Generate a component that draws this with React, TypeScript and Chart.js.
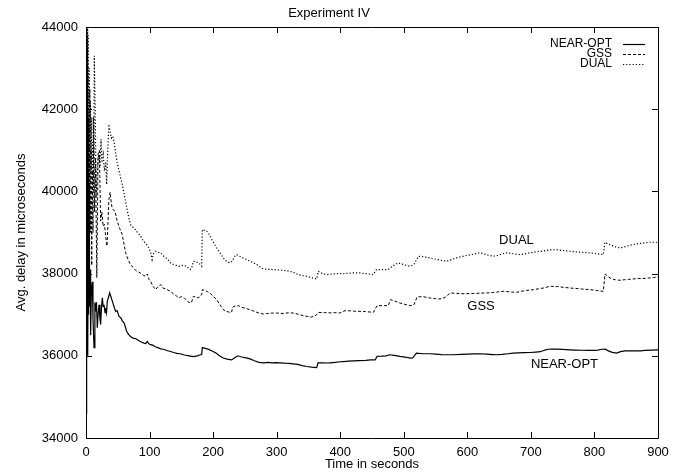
import React, { useEffect, useRef } from "react";
import { Chart, registerables } from "chart.js";

Chart.register(...registerables);

const chartTitle = "Experiment IV";
const xAxisTitle = "Time in seconds";
const yAxisTitle = "Avg. delay in microseconds";
const seriesNames = ["NEAR-OPT", "GSS", "DUAL"];
const xTickValues = [0, 100, 200, 300, 400, 500, 600, 700, 800, 900];
const yTickValues = [34000, 36000, 38000, 40000, 42000, 44000];

const nearOptTime = [
  0, 0.5, 1, 1.5, 2, 2.5, 3, 3.5, 4, 5, 5.5, 6.3, 7.3, 8.5, 10, 11, 12.6, 14, 15.2, 16.5, 17.8, 19, 20.5, 22, 23,
  24.5, 25.7, 27, 28.3, 30, 31, 32.3, 33.5, 35, 37.2, 39, 41.4, 43, 45, 46.7, 49, 52, 55, 57, 59.8, 62, 64, 67, 70,
  74, 78, 81, 85, 88, 91, 94, 96.5, 99, 101.7, 105, 109, 113, 117.5, 122, 127, 133, 138, 143, 148, 155, 162, 169,
  175, 179, 182, 183, 188, 194, 200, 205, 210, 216, 222, 229, 234, 239, 245, 252, 258, 265, 272, 279, 286, 293, 300,
  305, 312, 319, 326, 333, 340, 347, 355, 363, 365, 372, 380, 384, 392, 400, 405, 413, 421, 430, 440, 448, 455, 458,
  465, 472, 478, 485, 494, 502, 510, 514, 520, 530, 541, 550, 560, 570, 578, 590, 600, 610, 620, 630, 640, 646, 655,
  664, 672, 680, 690, 699, 708, 715, 722, 727, 733, 740, 750, 761, 770, 780, 790, 798, 805, 812, 817, 822, 828, 835,
  841, 848, 858, 866, 872, 880, 890, 900,
];
const nearOptDelay = [
  34600, 43800, 35800, 41800, 36400, 40500, 36000, 39500, 37000, 40200, 37200, 38100, 36500, 37600, 37800, 36900,
  36200, 37300, 37080, 37300, 36680, 37000, 37240, 36900, 36760, 37200, 37410, 37200, 37240, 37050, 37160, 37050,
  37330, 37400, 37530, 37450, 37330, 37250, 37150, 37080, 37100, 36960, 36920, 36850, 36800, 36700, 36590, 36520,
  36470, 36430, 36420, 36390, 36350, 36330, 36310, 36300, 36350, 36290, 36270, 36260, 36220, 36200, 36170, 36160,
  36130, 36105, 36080, 36060, 36050, 36020, 36000, 35980, 36000, 36020, 36030, 36200, 36180, 36150, 36105, 36060,
  36000, 35945, 35920, 35900, 35950, 36000, 35970, 35950, 35925, 35880, 35840, 35830, 35840, 35830, 35835, 35830,
  35820, 35815, 35805, 35790, 35760, 35740, 35725, 35715, 35830, 35830, 35825, 35830, 35840, 35855, 35860, 35870,
  35878, 35885, 35890, 35900, 35902, 35985, 35990, 36000, 36025, 36010, 35985, 35970, 35945, 35950, 36065, 36050,
  36050, 36040, 36030, 36025, 36025, 36035, 36040, 36045, 36050, 36040, 36030, 36025, 36035, 36050, 36065, 36070,
  36075, 36080, 36090, 36100, 36140, 36160, 36163, 36160, 36155, 36146, 36140, 36135, 36130, 36130, 36140, 36160,
  36163, 36120, 36085, 36066, 36100, 36120, 36122, 36120, 36122, 36130, 36140, 36146,
];

const gssTime = [
  0, 0.5, 1, 1.5, 2, 2.5, 3, 4, 5, 6, 7, 8, 9, 10, 11, 12, 13.5, 15, 17, 19, 21, 23, 25, 27, 29, 31, 33, 34.5, 36,
  38, 40, 41, 43, 45.6, 49, 53, 57, 60, 62.4, 66, 70, 74, 78, 80.7, 85, 90, 94, 96.5, 99, 101.7, 105, 109.6, 113,
  117.5, 121, 126, 133, 138, 142, 146, 150, 155, 160, 164, 166, 169, 173, 177, 180, 182, 183, 187, 191, 195, 200,
  205.6, 210, 216, 221, 226.6, 229, 231, 235, 239.7, 245, 252, 258, 265, 272, 279, 286, 293, 300, 310, 318, 326, 334,
  342, 348, 355, 360, 363, 365.5, 375, 385, 392, 399.6, 407.5, 415, 423, 431, 440, 447, 452, 458, 466, 475.6, 479,
  486, 494, 502, 510, 516, 521, 530, 541, 550, 557, 565, 573, 583, 593, 604, 615, 622, 630, 640, 648, 656.6, 664,
  671, 677.6, 685, 693, 699, 704, 712, 720, 727, 733, 742, 752, 761, 770, 780, 793, 803, 810, 814, 816.6, 822, 827,
  833, 840, 847, 854, 861, 870, 880, 887, 893, 900,
];
const gssDelay = [
  34900, 44000, 37500, 43500, 38500, 42800, 37800, 41800, 38400, 42500, 39000, 41000, 38200, 40500, 39000, 41800,
  39500, 40800, 37900, 40900, 41000, 39280, 39500, 39150, 39200, 38900, 38670, 39200, 39800, 39980, 39700, 39600,
  39550, 39520, 39280, 39100, 38950, 38700, 38505, 38350, 38220, 38150, 38080, 38056, 38020, 37960, 37935, 37990,
  37860, 37813, 37700, 37610, 37680, 37732, 37650, 37620, 37569, 37500, 37460, 37407, 37440, 37400, 37320, 37285,
  37300, 37447, 37430, 37407, 37470, 37488, 37610, 37590, 37560, 37529, 37450, 37366, 37260, 37122, 37080, 37056,
  37060, 37187, 37210, 37220, 37180, 37150, 37122, 37080, 37040, 37017, 37030, 37040, 37041, 37030, 37045, 37041,
  37010, 36976, 36960, 36944, 36970, 37000, 37056, 37050, 37045, 37050, 37041, 37098, 37095, 37085, 37081, 37075,
  37065, 37056, 37220, 37220, 37220, 37366, 37330, 37285, 37250, 37220, 37240, 37431, 37440, 37407, 37390, 37383,
  37420, 37529, 37520, 37510, 37512, 37520, 37525, 37529, 37540, 37555, 37569, 37560, 37550, 37545, 37570, 37590,
  37600, 37610, 37630, 37650, 37680, 37691, 37685, 37665, 37650, 37640, 37625, 37610, 37590, 37575, 37569, 37992,
  37920, 37870, 37850, 37837, 37850, 37860, 37870, 37880, 37885, 37895, 37905, 37919,
];

const dualTime = [
  0, 0.5, 1, 1.5, 2, 2.5, 3, 3.5, 4, 5, 6, 7, 8, 9, 10, 11, 12, 13, 14.5, 16, 18, 20, 22, 23.6, 25, 27, 29, 31, 32.5,
  34, 36, 38, 40, 42, 44, 46.5, 49, 52, 55, 58, 60, 63, 66, 70, 72, 75.5, 80, 86, 90, 95, 99, 102, 104, 106, 109.6,
  113, 117.5, 121, 126, 130, 133, 138, 142, 146, 150, 155, 160, 164, 166, 169, 173, 177, 180, 182, 183, 187, 190, 194,
  198, 202, 205.6, 210, 216, 221, 226.6, 230, 234, 237, 242, 247, 253, 260, 268.6, 274, 279, 287, 294.7, 302, 310,
  321, 328, 334, 340, 347, 355, 363, 365.5, 371, 378.6, 385, 392, 400, 405, 413, 422, 431, 440, 447, 452, 457, 465,
  475.6, 482, 491, 498, 504, 510, 516, 523, 530, 541, 550, 560, 567.5, 575, 583, 593, 602, 612, 620, 628, 635, 641,
  648, 655, 662, 670, 676, 683, 690, 697, 704, 712, 720, 727, 733, 742, 752, 761, 770, 780, 793, 803, 810, 814, 816.6,
  822, 829.7, 835, 840, 847, 854, 861, 870, 880, 887, 893, 900,
];
const dualDelay = [
  34800, 44000, 38500, 44000, 39500, 44000, 40000, 43800, 39000, 43000, 40200, 42200, 40500, 41800, 40300, 41200,
  40000, 43300, 42000, 39850, 40600, 40900, 40600, 41270, 40700, 40900, 40500, 40700, 40170, 40900, 41634, 41450,
  41300, 41350, 41228, 40950, 40700, 40500, 40300, 40100, 39930, 39700, 39450, 39195, 39150, 39114, 39020, 38910,
  38800, 38720, 38626, 38500, 38341, 38480, 38544, 38520, 38505, 38440, 38380, 38320, 38260, 38220, 38200, 38179,
  38200, 38203, 38150, 38098, 38120, 38300, 38290, 38260, 38220, 38179, 39073, 39050, 39032, 38950, 38829, 38720,
  38626, 38520, 38383, 38300, 38260, 38300, 38420, 38463, 38420, 38380, 38341, 38290, 38220, 38160, 38114, 38105,
  38098, 38090, 38080, 38056, 38020, 37976, 37955, 37935, 37900, 37870, 38056, 38010, 37976, 37985, 37995, 38000,
  38000, 38010, 38020, 38016, 38000, 37985, 37976, 38098, 38098, 38098, 38180, 38260, 38230, 38200, 38179, 38220,
  38422, 38410, 38383, 38350, 38320, 38300, 38340, 38383, 38420, 38450, 38480, 38505, 38470, 38440, 38422, 38440,
  38480, 38505, 38490, 38475, 38463, 38480, 38500, 38520, 38535, 38550, 38570, 38585, 38575, 38560, 38544, 38530,
  38520, 38505, 38485, 38470, 38463, 38763, 38720, 38666, 38640, 38626, 38650, 38680, 38707, 38730, 38750, 38763,
  38763, 38763,
];

// in-plot curve labels: [text, time, delay]
const curveLabelText = ["DUAL", "GSS", "NEAR-OPT"];
const curveLabelTime = [650, 600, 700];
const curveLabelDelay = [38800, 37200, 35800];

const FONT = "'Liberation Sans', Arial, Helvetica, sans-serif";

function toPoints(t: number[], v: number[]) {
  return t.map((x, i) => ({ x, y: v[i] }));
}

const framePlugin = {
  id: "gnuFrame",
  afterDatasetsDraw(chart: any) {
    const { ctx, chartArea: a, scales } = chart;
    const xs = scales.x;
    const ys = scales.y;
    const tl = 6;
    ctx.save();
    ctx.strokeStyle = "#000";
    ctx.lineWidth = 1;
    ctx.setLineDash([]);
    ctx.beginPath();
    ctx.rect(Math.round(a.left) + 0.5, Math.round(a.top) + 0.5, Math.round(a.right - a.left), Math.round(a.bottom - a.top));
    ctx.stroke();
    ctx.beginPath();
    xTickValues.forEach((v) => {
      const px = Math.round(xs.getPixelForValue(v)) + 0.5;
      ctx.moveTo(px, a.bottom);
      ctx.lineTo(px, a.bottom - tl);
      ctx.moveTo(px, a.top);
      ctx.lineTo(px, a.top + tl);
    });
    yTickValues.forEach((v) => {
      const py = Math.round(ys.getPixelForValue(v)) + 0.5;
      ctx.moveTo(a.left, py);
      ctx.lineTo(a.left + tl, py);
      ctx.moveTo(a.right, py);
      ctx.lineTo(a.right - tl, py);
    });
    ctx.stroke();

    // legend (right-aligned text, sample line on the right)
    ctx.font = `12px ${FONT}`;
    ctx.fillStyle = "#000";
    ctx.textAlign = "right";
    ctx.textBaseline = "middle";
    chart.data.datasets.forEach((ds: any, i: number) => {
      const y = a.top + 17 + i * 9.8;
      ctx.fillText(ds.label, a.right - 46, y);
      ctx.beginPath();
      ctx.setLineDash(ds.borderDash || []);
      ctx.lineWidth = ds.borderWidth;
      ctx.moveTo(a.right - 35, Math.round(y) + 0.5);
      ctx.lineTo(a.right - 13, Math.round(y) + 0.5);
      ctx.stroke();
    });
    ctx.setLineDash([]);

    // curve labels placed in data coordinates
    ctx.font = `13px ${FONT}`;
    ctx.textAlign = "left";
    curveLabelText.forEach((txt, i) => {
      ctx.fillText(txt, xs.getPixelForValue(curveLabelTime[i]), ys.getPixelForValue(curveLabelDelay[i]));
    });
    ctx.restore();
  },
};

export default function App() {
  const ref = useRef<HTMLCanvasElement | null>(null);
  useEffect(() => {
    if (!ref.current) return;
    const chart = new Chart(ref.current, {
      type: "line",
      data: {
        datasets: [
          {
            label: seriesNames[0],
            data: toPoints(nearOptTime, nearOptDelay),
            borderColor: "#000",
            borderWidth: 1.2,
            pointRadius: 0,
            tension: 0,
          },
          {
            label: seriesNames[1],
            data: toPoints(gssTime, gssDelay),
            borderColor: "#000",
            borderWidth: 1,
            borderDash: [3, 2],
            pointRadius: 0,
            tension: 0,
          },
          {
            label: seriesNames[2],
            data: toPoints(dualTime, dualDelay),
            borderColor: "#000",
            borderWidth: 1.2,
            borderDash: [1.2, 2],
            pointRadius: 0,
            tension: 0,
          },
        ],
      },
      options: {
        responsive: false,
        devicePixelRatio: 1,
        animation: false,
        events: [],
        layout: { padding: { top: 0, right: 27, left: 0, bottom: 0 } },
        plugins: {
          legend: { display: false },
          tooltip: { enabled: false },
          title: {
            display: true,
            text: chartTitle,
            color: "#000",
            font: { family: FONT, size: 13, weight: "normal" },
            padding: { top: 5.2, bottom: 6.2 },
          },
        },
        scales: {
          x: {
            type: "linear",
            min: 0,
            max: 900,
            grid: { display: false, drawTicks: false },
            border: { display: false },
            afterBuildTicks: (s: any) => {
              s.ticks = xTickValues.map((value) => ({ value }));
            },
            afterFit: (s: any) => {
              s.height = 35;
            },
            ticks: {
              color: "#000",
              font: { family: FONT, size: 13 },
              padding: 6.5,
              maxRotation: 0,
              autoSkip: false,
              callback: (v: any) => String(v),
            },
            title: {
              display: true,
              text: xAxisTitle,
              color: "#000",
              font: { family: FONT, size: 13 },
              padding: { top: 0, bottom: 1.2 },
            },
          },
          y: {
            type: "linear",
            min: 34000,
            max: 44000,
            grid: { display: false, drawTicks: false },
            border: { display: false },
            afterBuildTicks: (s: any) => {
              s.ticks = yTickValues.map((value) => ({ value }));
            },
            afterFit: (s: any) => {
              s.width = 86;
            },
            ticks: {
              color: "#000",
              font: { family: FONT, size: 13 },
              padding: 8,
              autoSkip: false,
              callback: (v: any) => String(v),
            },
            title: {
              display: true,
              text: yAxisTitle,
              color: "#000",
              font: { family: FONT, size: 13 },
              padding: { top: 13.2, bottom: 0 },
            },
          },
        },
      },
      plugins: [framePlugin],
    } as any);
    return () => chart.destroy();
  }, []);
  return (
    <div style={{ position: "absolute", left: 0, top: 0, width: 685, height: 473, background: "#fff" }}>
      <canvas ref={ref} width={685} height={473} />
    </div>
  );
}
